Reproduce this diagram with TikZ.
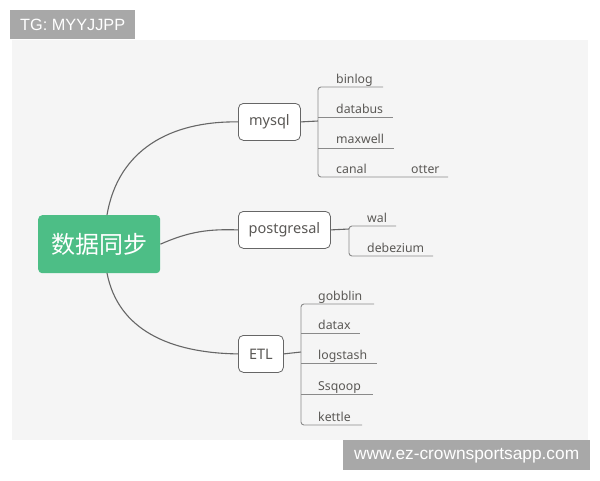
\documentclass[tikz,border=0pt]{standalone}
\usepackage{fontspec}
\setmainfont{Noto Sans}
\newfontfamily\cjk{Noto Sans CJK SC}
\newfontfamily\wmfont{Liberation Sans}
\definecolor{panelbg}{HTML}{F5F5F5}
\definecolor{wmgray}{HTML}{A8A8A8}
\definecolor{rootgreen}{HTML}{4DBE86}
\definecolor{txtgray}{HTML}{5A5855}
\definecolor{linegray}{HTML}{8A8A8A}
\definecolor{curvegray}{HTML}{666666}
\tikzset{
  wm/.style={fill=wmgray, text=white, inner sep=0pt},
  rootbox/.style={fill=rootgreen, rounded corners=4pt, minimum width=122pt, minimum height=58pt, text=white, font=\cjk\fontsize{24}{28}\selectfont, inner sep=0pt},
  midbox/.style={draw=curvegray, line width=0.8pt, fill=white, rounded corners=5pt, minimum height=37pt, text=txtgray, font=\fontsize{14.5}{16}\selectfont, inner sep=0pt},
  leaf/.style={anchor=base west, text=txtgray, font=\fontsize{12.3}{14}\selectfont, inner sep=0pt},
  branch/.style={draw=curvegray, line width=1.1pt},
  leafline/.style={draw=linegray, line width=0.9pt},
  trunk/.style={draw=linegray, line width=0.9pt, rounded corners=3pt}
}
\begin{document}
\begin{tikzpicture}[x=1pt,y=-1pt]
\useasboundingbox (0,0) rectangle (600,480);
\fill[white] (0,0) rectangle (600,480);
\fill[panelbg] (12,40) rectangle (588,440);
% watermarks
\node[wm, minimum width=125pt, minimum height=29pt, anchor=north west, font=\wmfont\fontsize{16.3}{18}\selectfont] (tg) at (10,10) {TG: MYYJJPP};
\node[wm, minimum width=247pt, minimum height=30pt, anchor=north west, font=\wmfont\fontsize{17.3}{19}\selectfont] (url) at (343,440) {www.ez-crownsportsapp.com};
% root
\node[rootbox, anchor=north west] (root) at (38,215) {数据同步};
% mid nodes
\node[midbox, minimum width=62pt, anchor=north west] (mysql) at (238,103) {mysql};
\node[midbox, minimum width=92pt, anchor=north west] (pg) at (238,211) {postgresal};
\node[midbox, minimum width=45pt, anchor=north west] (etl) at (238,335) {ETL};
% main curves
\coordinate (rtop) at (107,215);
\coordinate (rbot) at (107,273);
\draw[branch] (rtop) .. controls (118,150) and (170,121) .. (mysql.west);
\draw[branch] (root.east) .. controls (190,231) and (210,229) .. (pg.west);
\draw[branch] (rbot) .. controls (118,330) and (170,353) .. (etl.west);
% mysql leaves
\node[leaf] (binlog) at (336,83) {binlog};
\node[leaf] (databus) at (336,113) {databus};
\node[leaf] (maxwell) at (336,143) {maxwell};
\node[leaf] (canal) at (336,173) {canal};
\node[leaf] (otter) at (411,173) {otter};
\coordinate (mj) at (318,121);
\draw[branch] (mysql.east) -- (mj);
\draw[trunk] (383,87) -- (318,87) -- (318,177) -- (448,177);
\draw[leafline] (318,117) -- (393,117);
\draw[leafline] (318,148) -- (394,148);
% postgres leaves
\node[leaf] (wal) at (367,222) {wal};
\node[leaf] (debezium) at (367,252) {debezium};
\coordinate (pj) at (349,229);
\draw[branch] (pg.east) -- (pj);
\draw[trunk] (396,226) -- (349,226) -- (349,256) -- (433,256);
% ETL leaves
\node[leaf] (gobblin) at (318,300) {gobblin};
\node[leaf] (datax) at (318,329) {datax};
\node[leaf] (logstash) at (318,359) {logstash};
\node[leaf] (ssqoop) at (318,390) {Ssqoop};
\node[leaf] (kettle) at (318,421) {kettle};
\coordinate (ej) at (301,352);
\draw[branch] (etl.east) -- (ej);
\draw[trunk] (374,304) -- (301,304) -- (301,425) -- (362,425);
\draw[leafline] (301,333) -- (360,333);
\draw[leafline] (301,363) -- (377,363);
\draw[leafline] (301,394) -- (373,394);
\end{tikzpicture}
\end{document}
